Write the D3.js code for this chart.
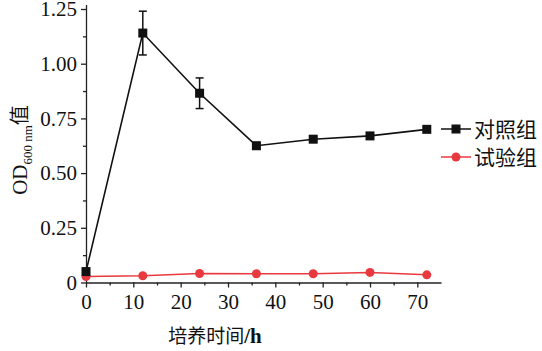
<!DOCTYPE html>
<html>
<head>
<meta charset="utf-8">
<script src="https://cdn.jsdelivr.net/npm/d3@7"></script>
<style>
  body { margin: 0; background: #fff; }
  svg text { font-family: "Liberation Serif", "Times New Roman", serif; }
</style>
</head>
<body>
<svg id="chart"></svg>
<script>
// time points (h)
var hours = [0, 12, 24, 36, 48, 60, 72];
// control group OD600 and error
var controlOD = [0.05, 1.14, 0.865, 0.625, 0.655, 0.67, 0.70];
var controlErr = [0.01, 0.10, 0.07, 0.015, 0.01, 0.01, 0.01];
// test group OD600
var testOD = [0.027, 0.031, 0.041, 0.040, 0.040, 0.046, 0.035];
var seriesNames = ["对照组", "试验组"];
var yTicks = [0, 0.25, 0.5, 0.75, 1.0, 1.25];
var xTicks = [0, 10, 20, 30, 40, 50, 60, 70];

var width = 542, height = 351;
var margin = {top: 9, right: 101, bottom: 68, left: 86};

var svg = d3.select("#chart")
    .attr("width", width)
    .attr("height", height);

var x = d3.scaleLinear()
    .domain([0, 75])
    .range([margin.left, width - margin.right]);

var y = d3.scaleLinear()
    .domain([0, 1.25])
    .range([height - margin.bottom - 0.5, margin.top]);

// minor ticks first
svg.append("g")
    .attr("transform", "translate(" + margin.left + ",0)")
    .call(d3.axisLeft(y).tickValues(d3.range(0.125, 1.25, 0.25)).tickSize(3).tickFormat(""))
    .call(g => g.select(".domain").remove());
svg.append("g")
    .attr("transform", `translate(0,${y(0)})`)
    .call(d3.axisBottom(x).tickValues(d3.range(5, 75, 10)).tickSize(3).tickFormat(""))
    .call(g => g.select(".domain").remove());

var yAxis = g => g
    .attr("transform", "translate(" + margin.left + ",0)")
    .call(d3.axisLeft(y).tickValues(yTicks).tickSize(5).tickSizeOuter(0).tickPadding(4)
      .tickFormat(d => d === 0 ? "0" : d3.format(".2f")(d)))
    .call(g => g.select(".domain").attr("d", `M0.5,${height - margin.bottom}V${margin.top - 4}`));

var xAxis = g => g
    .attr("transform", `translate(0,${y(0)})`)
    .call(d3.axisBottom(x).tickValues(xTicks).tickSize(5).tickSizeOuter(0).tickPadding(7));

svg.append("g").call(xAxis);
svg.append("g").call(yAxis);

svg.selectAll(".tick text")
    .style("font-family", "'Liberation Serif', serif")
    .style("font-size", "21px")
    .attr("fill", "#111");
svg.selectAll(".domain, .tick line").attr("stroke", "#222").attr("stroke-width", 1.3);

// axis titles
var yl = svg.append("text")
    .attr("transform", "translate(27," + 150 + ") rotate(-90)")
    .attr("text-anchor", "middle")
    .attr("font-size", 21)
    .attr("fill", "#111");
yl.append("tspan").text("OD");
yl.append("tspan").attr("font-size", 13).attr("dy", 5).text("600 nm");
yl.append("tspan").attr("dy", -5).style("font-family", "'Noto Sans CJK SC'").attr("font-size", 20).text("值");

var xl = svg.append("text")
    .attr("x", 215)
    .attr("y", 343)
    .attr("text-anchor", "middle")
    .attr("font-size", 21)
    .attr("fill", "#111");
xl.append("tspan").style("font-family", "'Noto Sans CJK SC'").attr("font-size", 19).text("培养时间");
xl.append("tspan").attr("font-weight", "bold").text("/h");

var line = d3.line()
    .x(d => x(d[0]))
    .y(d => y(d[1]));

var red = "#e8393f";

// test group (red)
var testData = hours.map((h, i) => [h, testOD[i]]);
svg.append("path")
    .datum(testData)
    .attr("fill", "none")
    .attr("stroke", red)
    .attr("stroke-width", 1.5)
    .attr("d", line);
svg.selectAll(".dotRed")
    .data(testData)
  .enter().append("circle")
    .attr("cx", d => x(d[0]))
    .attr("cy", d => y(d[1]))
    .attr("r", 4.5)
    .attr("fill", red);

// control group (black)
var ctrlData = hours.map((h, i) => [h, controlOD[i], controlErr[i]]);
var eb = svg.selectAll(".err")
    .data(ctrlData)
  .enter().append("g")
    .attr("stroke", "#111")
    .attr("stroke-width", 1.5);
eb.append("line")
    .attr("x1", d => x(d[0])).attr("x2", d => x(d[0]))
    .attr("y1", d => y(d[1] - d[2])).attr("y2", d => y(d[1] + d[2]));
eb.append("line")
    .attr("x1", d => x(d[0]) - 4).attr("x2", d => x(d[0]) + 4)
    .attr("y1", d => y(d[1] + d[2])).attr("y2", d => y(d[1] + d[2]));
eb.append("line")
    .attr("x1", d => x(d[0]) - 4).attr("x2", d => x(d[0]) + 4)
    .attr("y1", d => y(d[1] - d[2])).attr("y2", d => y(d[1] - d[2]));

svg.append("path")
    .datum(ctrlData)
    .attr("fill", "none")
    .attr("stroke", "#111")
    .attr("stroke-width", 1.6)
    .attr("d", line);
svg.selectAll(".sq")
    .data(ctrlData)
  .enter().append("rect")
    .attr("x", d => x(d[0]) - 4.5)
    .attr("y", d => y(d[1]) - 4.5)
    .attr("width", 9)
    .attr("height", 9)
    .attr("fill", "#111");

// legend
var legend = svg.selectAll(".legend")
    .data(seriesNames)
  .enter().append("g")
    .attr("transform", (d, i) => "translate(441," + (129 + i * 28) + ")");
legend.append("line")
    .attr("x1", 0).attr("x2", 30)
    .attr("stroke", (d, i) => i === 0 ? "#111" : red)
    .attr("stroke-width", 1.5);
legend.each(function(d, i) {
  var g = d3.select(this);
  if (i === 0) {
    g.append("rect").attr("x", 10.5).attr("y", -4.5).attr("width", 9).attr("height", 9).attr("fill", "#111");
  } else {
    g.append("circle").attr("cx", 15).attr("cy", 0).attr("r", 4.5).attr("fill", red);
  }
});
legend.append("text")
    .attr("x", 33)
    .attr("y", 8)
    .style("font-family", "'Noto Sans CJK SC'")
    .attr("font-size", 21)
    .attr("fill", "#111")
    .text(d => d);
</script>
</body>
</html>
